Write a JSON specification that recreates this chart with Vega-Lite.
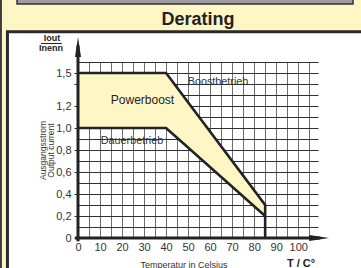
{
  "$schema": "https://vega.github.io/schema/vega-lite/v6.json",
  "width": 240,
  "height": 176,
  "autosize": {"type": "none"},
  "padding": {"left": 78, "top": 62, "right": 43, "bottom": 30},
  "background": "#ffffff",
  "config": {
    "font": "Liberation Sans",
    "view": {"stroke": null},
    "axis": {
      "domain": false, "grid": true, "gridWidth": 1, "gridOpacity": 1,
      "labelFlush": false, "labelOverlap": false, "labelBound": false,
      "labelFontSize": 11, "labelColor": "#333333", "labelFont": "Liberation Sans",
      "titleFontWeight": "normal", "titleColor": "#333333"
    },
    "axisX": {"tickCount": 22, "ticks": false, "labelPadding": 3, "gridColor": "#6e6e6e"},
    "axisY": {"tickCount": 16, "ticks": true, "tickSize": 4, "tickColor": "#333333", "tickWidth": 1, "labelPadding": 3, "gridColor": "#303030"}
  },
  "datasets": {
    "band": [
      {"t": 0, "hi": 1.5, "lo": 1.0},
      {"t": 40, "hi": 1.5, "lo": 1.0},
      {"t": 85, "hi": 0.3, "lo": 0.2}
    ],
    "curves": [
      {"t": 0, "v": 1.5, "s": "Boostbetrieb", "o": 1},
      {"t": 40, "v": 1.5, "s": "Boostbetrieb", "o": 2},
      {"t": 85, "v": 0.3, "s": "Boostbetrieb", "o": 3},
      {"t": 85, "v": 0, "s": "Boostbetrieb", "o": 4},
      {"t": 0, "v": 1.0, "s": "Dauerbetrieb", "o": 1},
      {"t": 40, "v": 1.0, "s": "Dauerbetrieb", "o": 2},
      {"t": 85, "v": 0.2, "s": "Dauerbetrieb", "o": 3}
    ],
    "notes": [
      {"label": "Powerboost", "t": 29.3, "i": 1.252},
      {"label": "Boostbetrieb", "t": 63.6, "i": 1.42},
      {"label": "Dauerbetrieb", "t": 24.5, "i": 0.885}
    ]
  },
  "layer": [
    {
      "data": {"name": "band"},
      "mark": {"type": "area", "fill": "#FFF6C6", "opacity": 1, "clip": false},
      "encoding": {
        "x": {
          "field": "t", "type": "quantitative",
          "scale": {"domain": [0, 109], "nice": false, "zero": false},
          "axis": {
            "tickCount": 22,
            "labelExpr": "datum.value % 10 == 0 ? datum.label : ''",
            "title": "Temperatur in Celsius", "titleFontSize": 9,
            "titleX": 105.5, "titleY": 22.5, "titleAlign": "center", "titleBaseline": "top"
          }
        },
        "y": {
          "field": "hi", "type": "quantitative",
          "scale": {"domain": [0, 1.6], "nice": false, "zero": false},
          "axis": {
            "tickCount": 16,
            "tickOpacity": {"condition": {"test": "(round(datum.value*10) % 2 == 0 || round(datum.value*10) == 15) && round(datum.value*10) != 16", "value": 1}, "value": 0},
            "labelExpr": "datum.value == 0 ? '0' : (indexof([2,4,6,8,10,12,15], round(datum.value*10)) >= 0 ? replace(format(datum.value, '.1f'), '.', ',') : '')",
            "title": ["Ausgangsstrom", "Output current"], "titleFontSize": 8.5,
            "titleLineHeight": 8, "titleAngle": 270, "titleX": -31, "titleY": 88, "titleAlign": "center", "titleBaseline": "bottom"
          }
        },
        "y2": {"field": "lo"}
      }
    },
    {
      "data": {"values": [{}]},
      "mark": {"type": "rect", "fill": "#FFF6C6", "clip": false},
      "encoding": {
        "x": {"datum": -40, "type": "quantitative"},
        "x2": {"datum": 150},
        "y": {"datum": 2.4, "type": "quantitative"},
        "y2": {"datum": 1.875}
      }
    },
    {
      "data": {"values": [{}]},
      "mark": {"type": "rect", "fill": "#FFF6C6", "clip": false},
      "encoding": {
        "x": {"datum": -40, "type": "quantitative"},
        "x2": {"datum": -32.05},
        "y": {"datum": 2.4, "type": "quantitative"},
        "y2": {"datum": -0.6}
      }
    },
    {
      "data": {"values": [{}]},
      "mark": {"type": "rect", "fill": "#9e9e9e", "stroke": "#333333", "strokeWidth": 1.5, "clip": false},
      "encoding": {
        "x": {"datum": -27.7, "type": "quantitative"},
        "x2": {"datum": 124.9},
        "y": {"datum": 2.19, "type": "quantitative"},
        "y2": {"datum": 2.127}
      }
    },
    {
      "data": {"values": [{}]},
      "mark": {"type": "rule", "stroke": "#3c3c3c", "strokeWidth": 2, "clip": false},
      "encoding": {
        "x": {"datum": -35, "type": "quantitative"},
        "y": {"datum": 2.4, "type": "quantitative"},
        "y2": {"datum": -0.6}
      }
    },
    {
      "data": {"values": [{}]},
      "mark": {"type": "rect", "filled": false, "stroke": "#2a2a2a", "strokeWidth": 3, "clip": false},
      "encoding": {
        "x": {"datum": -32.05, "type": "quantitative"},
        "x2": {"datum": 150},
        "y": {"datum": 1.8745, "type": "quantitative"},
        "y2": {"datum": -0.6}
      }
    },
    {
      "data": {"name": "band"},
      "mark": {"type": "area", "fill": "#FFF6C6", "opacity": 1, "clip": false},
      "encoding": {
        "x": {"field": "t", "type": "quantitative"},
        "y": {"field": "hi", "type": "quantitative"},
        "y2": {"field": "lo"}
      }
    },
    {
      "data": {"name": "curves"},
      "mark": {"type": "line", "stroke": "#222222", "strokeWidth": 2.6, "clip": false},
      "encoding": {
        "x": {"field": "t", "type": "quantitative"},
        "y": {"field": "v", "type": "quantitative"},
        "detail": {"field": "s"},
        "order": {"field": "o"}
      }
    },
    {
      "data": {"values": [{}]},
      "mark": {"type": "rule", "stroke": "#222222", "strokeWidth": 3, "clip": false},
      "encoding": {
        "x": {"datum": -1.4, "type": "quantitative"},
        "x2": {"datum": 110},
        "y": {"datum": 0, "type": "quantitative"}
      }
    },
    {
      "data": {"values": [{}]},
      "mark": {"type": "rule", "stroke": "#222222", "strokeWidth": 3, "clip": false},
      "encoding": {
        "x": {"datum": 0, "type": "quantitative"},
        "y": {"datum": -0.03, "type": "quantitative"},
        "y2": {"datum": 1.75}
      }
    },
    {
      "data": {"values": [{}]},
      "mark": {"type": "point", "shape": "M0,-1L0.3,1L-0.3,1Z", "filled": true, "fill": "#222222", "opacity": 1, "size": 400, "strokeWidth": 0, "clip": false},
      "encoding": {
        "x": {"datum": 0, "type": "quantitative"},
        "y": {"datum": 1.736, "type": "quantitative"}
      }
    },
    {
      "data": {"values": [{}]},
      "mark": {"type": "point", "shape": "M1,0L-1,0.3L-1,-0.3Z", "filled": true, "fill": "#222222", "opacity": 1, "size": 400, "strokeWidth": 0, "clip": false},
      "encoding": {
        "x": {"datum": 109.5, "type": "quantitative"},
        "y": {"datum": 0, "type": "quantitative"}
      }
    },
    {
      "data": {"name": "notes"},
      "transform": [{"filter": "datum.label == 'Powerboost'"}],
      "mark": {"type": "text", "fontSize": 12, "color": "#222222", "baseline": "middle", "align": "center", "clip": false},
      "encoding": {
        "x": {"field": "t", "type": "quantitative"},
        "y": {"field": "i", "type": "quantitative"},
        "text": {"field": "label"}
      }
    },
    {
      "data": {"name": "notes"},
      "transform": [{"filter": "datum.label != 'Powerboost'"}],
      "mark": {"type": "text", "fontSize": 10.8, "color": "#333333", "baseline": "middle", "align": "center", "clip": false},
      "encoding": {
        "x": {"field": "t", "type": "quantitative"},
        "y": {"field": "i", "type": "quantitative"},
        "text": {"field": "label"}
      }
    },
    {
      "data": {"values": [{}]},
      "mark": {"type": "text", "text": "Derating", "fontSize": 18, "fontWeight": "bold", "color": "#222222", "baseline": "alphabetic", "align": "center", "clip": false},
      "encoding": {
        "x": {"datum": 54.5, "type": "quantitative"},
        "y": {"datum": 1.936, "type": "quantitative"}
      }
    },
    {
      "data": {"values": [{}]},
      "mark": {"type": "text", "text": "T / C°", "fontSize": 11, "fontWeight": "bold", "color": "#222222", "baseline": "alphabetic", "align": "center", "clip": false},
      "encoding": {
        "x": {"datum": 101.3, "type": "quantitative"},
        "y": {"datum": -0.266, "type": "quantitative"}
      }
    },
    {
      "data": {"values": [{}]},
      "mark": {"type": "text", "text": "Iout", "fontSize": 9, "fontWeight": "bold", "color": "#222222", "baseline": "middle", "align": "center", "clip": false},
      "encoding": {
        "x": {"datum": -11.8, "type": "quantitative"},
        "y": {"datum": 1.814, "type": "quantitative"}
      }
    },
    {
      "data": {"values": [{}]},
      "mark": {"type": "text", "text": "Inenn", "fontSize": 9, "fontWeight": "bold", "color": "#222222", "baseline": "middle", "align": "center", "clip": false},
      "encoding": {
        "x": {"datum": -12.3, "type": "quantitative"},
        "y": {"datum": 1.723, "type": "quantitative"}
      }
    },
    {
      "data": {"values": [{}]},
      "mark": {"type": "rule", "stroke": "#222222", "strokeWidth": 1, "clip": false},
      "encoding": {
        "x": {"datum": -16.8, "type": "quantitative"},
        "x2": {"datum": -7.3},
        "y": {"datum": 1.768, "type": "quantitative"}
      }
    }
  ]
}
